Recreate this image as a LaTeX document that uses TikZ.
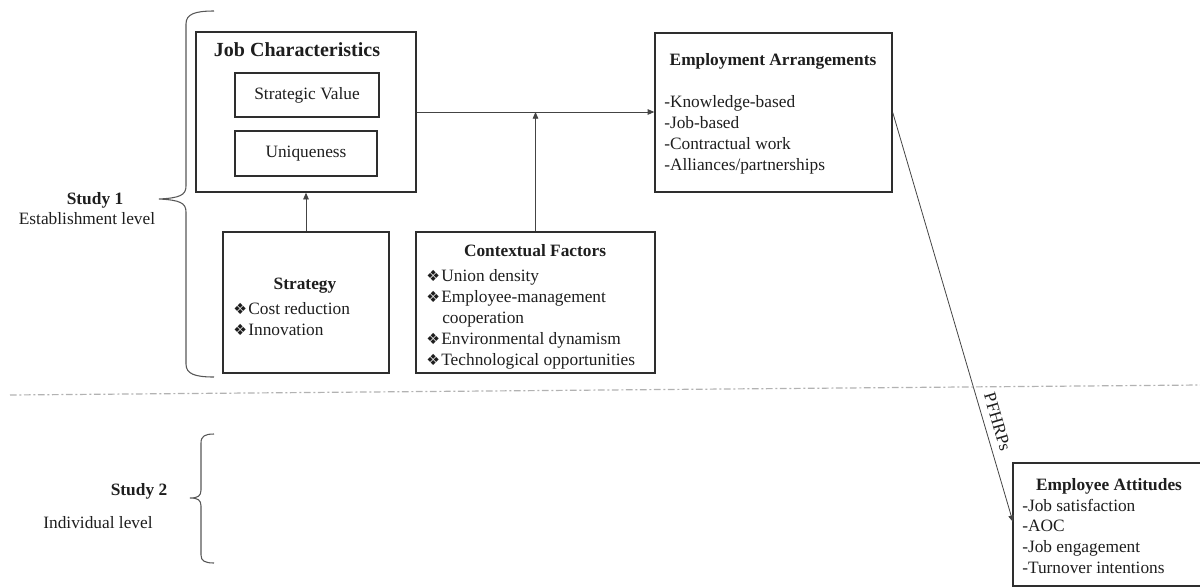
\documentclass[tikz,border=0pt]{standalone}
\usepackage{fontspec}
\setmainfont{Liberation Serif}
\newfontfamily\dingf{DejaVu Sans}
\usetikzlibrary{arrows.meta,fit}
\definecolor{ink}{HTML}{1E1E1E}
\definecolor{edge}{HTML}{2E2E2E}
\definecolor{wire}{HTML}{444444}
\newcommand{\bul}{{\dingf\fontsize{11.5}{12}\selectfont ❖}\hspace{1pt}}
\begin{document}
\begin{tikzpicture}[x=0.75pt,y=-0.75pt,
  box/.style={draw=edge,line width=1.1pt,inner sep=0pt,fit={#1}},
  body/.style={text=ink,font=\fontsize{13}{15.75}\selectfont,inner sep=0pt,text height=9pt,text depth=2.5pt},
  item/.style={body,anchor=west},
  head/.style={text=ink,font=\bfseries\fontsize{13}{15.75}\selectfont,inner sep=0pt,text height=9pt,text depth=2.5pt},
  link/.style={draw=wire,line width=0.6pt,-{Triangle[length=5pt,width=4.2pt]}},
  bracecurve/.style={draw=wire!90,line width=0.8pt},
  sep/.style={draw=gray!60,line width=0.9pt,dash pattern=on 5pt off 2pt on 1.5pt off 2pt}]
\useasboundingbox (0,0) rectangle (1200,587);

% --- boxes ---
\node[box={(196,32) (416,192)}] (jc) {};
\node[box={(235,73) (379,117)}] (sv) {};
\node[box={(235,131) (377,176)}] (un) {};
\node[box={(223,232) (389,373)}] (st) {};
\node[box={(416,232) (655,373)}] (cf) {};
\node[box={(655,33) (892,192)}] (ea) {};
\node[box={(1013,463) (1220,586)}] (att) {};

% --- titles ---
\node[head,font=\bfseries\fontsize{15}{18}\selectfont] (jct) at (297,52) {Job Characteristics};
\node[body] (svt) at (sv) {Strategic Value};
\node[body] (unt) at (un) {Uniqueness};
\node[head] (stt) at (305,285) {Strategy};
\node[head] (cft) at (535,252) {Contextual Factors};
\node[head] (eat) at (773,61) {Employment Arrangements};
\node[head] (attt) at (1109,486) {Employee Attitudes};

% --- strategy items ---
\node[item] (st1) at (233,310) {\bul Cost reduction};
\node[item] (st2) at (233,331) {\bul Innovation};

% --- contextual factor items ---
\node[item] (cf1) at (426,277) {\bul Union density};
\node[item] (cf2) at (426,298) {\bul Employee-management};
\node[item] (cf2b) at (442,319) {cooperation};
\node[item] (cf3) at (426,340) {\bul Environmental dynamism};
\node[item] (cf4) at (426,361) {\bul Technological opportunities};

% --- employment arrangement items ---
\node[item] (ea1) at (664,103) {-Knowledge-based};
\node[item] (ea2) at (664,124) {-Job-based};
\node[item] (ea3) at (664,145) {-Contractual work};
\node[item] (ea4) at (664,166) {-Alliances/partnerships};

% --- attitude items ---
\node[item] (at1) at (1022,507) {-Job satisfaction};
\node[item] (at2) at (1022,527) {-AOC};
\node[item] (at3) at (1022,548) {-Job engagement};
\node[item] (at4) at (1022,569) {-Turnover intentions};

% --- level labels ---
\node[head] (s1) at (95,200) {Study 1};
\node[body] (s1l) at (87,220) {Establishment level};
\node[head] (s2) at (139,491) {Study 2};
\node[body] (s2l) at (98,524) {Individual level};

% --- connectors ---
\draw[link] (st.north) -- (jc.south);
\draw[link] (jc.east |- 0,112) -- (ea.west |- 0,112) coordinate[pos=0.503] (mid);
\draw[link] (cf.north) -- (cf.north |- mid);
\coordinate (attin) at (1013,522);
\draw[link] (ea.east) -- node[sloped,above=3pt,pos=0.765,body] {PFHRPs} (attin);

% --- level separator ---
\draw[sep] (10,395) -- (1200,385);

% --- braces ---
\draw[bracecurve] (214,11) .. controls (195,11) and (186,14) .. (186,24) -- (186,186)
  .. controls (186,195) and (180,198) .. (159,199)
  .. controls (180,200) and (186,203) .. (186,212) -- (186,364)
  .. controls (186,374) and (195,377) .. (214,377);
\draw[bracecurve] (214,434) .. controls (205,434) and (201,436) .. (201,443) -- (201,490)
  .. controls (201,496) and (198,498) .. (190,498)
  .. controls (198,498) and (201,500) .. (201,506) -- (201,555)
  .. controls (201,561) and (205,563) .. (214,563);
\end{tikzpicture}
\end{document}
